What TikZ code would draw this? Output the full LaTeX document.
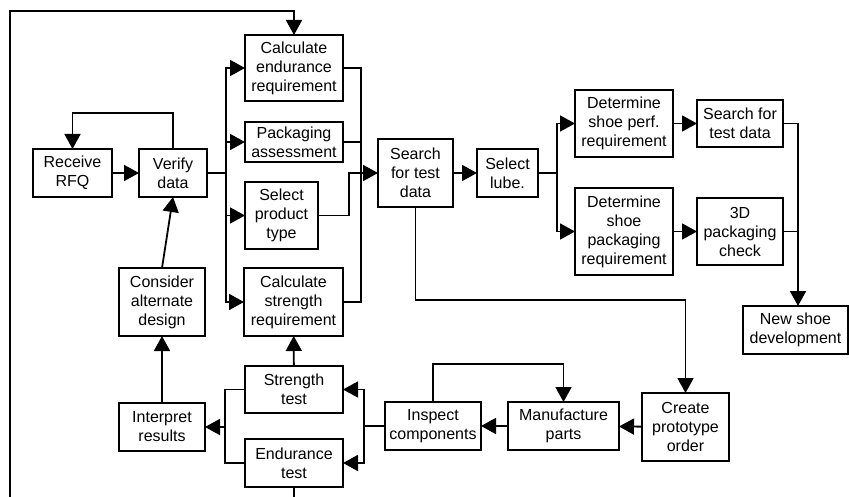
\documentclass[tikz,border=0pt]{standalone}
\usepackage{fontspec}
\setmainfont{Liberation Sans}
\usetikzlibrary{arrows.meta}
\begin{document}
\begin{tikzpicture}[x=1pt,y=-1pt,
  box/.style={draw,line width=2pt,align=center,inner sep=0pt,outer sep=0pt,
    font=\fontsize{16}{19}\selectfont},
  ln/.style={line width=1.8pt},
  arr/.style={line width=1.8pt,-{Triangle[length=15pt,width=16pt]}}]
\clip (0,0) rectangle (849,497);
\node[box,minimum width=79,minimum height=48] (rfq) at (72.5,173) {Receive\\RFQ};
\node[box,minimum width=68,minimum height=48] (verify) at (173,173) {Verify\\data};
\node[box,minimum width=98,minimum height=66] (calend) at (294,68) {Calculate\\endurance\\requirement};
\node[box,minimum width=98,minimum height=40] (pack) at (294,142) {Packaging\\assessment};
\node[box,minimum width=73,minimum height=67] (select) at (281.5,215.5) {Select\\product\\type};
\node[box,minimum width=99,minimum height=68] (calstr) at (293.5,302) {Calculate\\strength\\requirement};
\node[box,minimum width=75,minimum height=68] (search) at (415.5,173) {Search\\for test\\data};
\node[box,minimum width=61,minimum height=48] (lube) at (507.5,173) {Select\\lube.};
\node[box,minimum width=98,minimum height=67] (detperf) at (624,123.5) {Determine\\shoe perf.\\requirement};
\node[box,minimum width=86,minimum height=47] (search2) at (740,123.5) {Search for\\test data};
\node[box,minimum width=98,minimum height=87] (detpack) at (624,231.5) {Determine\\shoe\\packaging\\requirement};
\node[box,minimum width=86,minimum height=67] (check) at (740,231.5) {3D\\packaging\\check};
\node[box,minimum width=105,minimum height=48] (newshoe) at (795.5,330) {New shoe\\development};
\node[box,minimum width=87,minimum height=68] (create) at (685.5,427) {Create\\prototype\\order};
\node[box,minimum width=111,minimum height=48] (manuf) at (563.5,426) {Manufacture\\parts};
\node[box,minimum width=96,minimum height=48] (inspect) at (433,426) {Inspect\\components};
\node[box,minimum width=86,minimum height=68] (consider) at (162,302) {Consider\\alternate\\design};
\node[box,minimum width=98,minimum height=47] (strtest) at (294,389.5) {Strength\\test};
\node[box,minimum width=86,minimum height=48] (interp) at (162,427) {Interpret\\results};
\node[box,minimum width=98,minimum height=48] (endtest) at (294,463) {Endurance\\test};
% coordinates
\coordinate (b1) at (226,173);
\coordinate (m1) at (361,173);
\coordinate (m2) at (349,173);
\coordinate (b2) at (557,173);
\coordinate (j1) at (798,231.5);
\coordinate (b3) at (364,426);
\coordinate (c1) at (225,427);
% connectors
\draw[arr] (rfq) -- (verify);
\draw[arr] (verify.north) -- ++(0,-36) -| (rfq.north);
\draw[ln] (verify.east) -- (b1);
\draw[arr] (b1) |- (calend.west);
\draw[arr] (b1) |- (pack.west);
\draw[arr] (b1) |- (select.west);
\draw[arr] (b1) |- (calstr.west);
\draw[ln] (calend.east) -| (m1);
\draw[ln] (pack.east) -| (m1);
\draw[ln] (calstr.east) -| (m1);
\draw[arr] (select.east) -| (m2) -- (search.west);
\draw[arr] (search) -- (lube);
\draw[ln] (lube.east) -- (b2);
\draw[arr] (b2) |- (detperf.west);
\draw[arr] (b2) |- (detpack.west);
\draw[arr] (detperf) -- (search2);
\draw[arr] (detpack) -- (check);
\draw[ln] (search2.east) -| (j1);
\draw[ln] (check.east) -- (j1);
\draw[arr] (j1) -- (j1 |- newshoe.north);
\draw[arr] (search.south) -- ++(0,93) -| (create.north);
\draw[arr] (create) -- (manuf);
\draw[arr] (manuf) -- (inspect);
\draw[arr] (inspect.north) -- ++(0,-38) -| (manuf.north);
\draw[ln] (inspect.west) -- (b3);
\draw[arr] (b3) |- (strtest.east);
\draw[arr] (b3) |- (endtest.east);
\draw[ln] (strtest.west) -| (c1);
\draw[ln] (endtest.west) -| (c1);
\draw[arr] (c1) -- (c1 -| interp.east);
\draw[arr] (strtest) -- (calstr);
\draw[arr] (interp) -- (consider);
\draw[arr] (consider.north) -- (verify.south);
\draw[arr] (endtest.south) -- ++(0,40) -| (10,11) -| (calend.north);
\end{tikzpicture}
\end{document}
